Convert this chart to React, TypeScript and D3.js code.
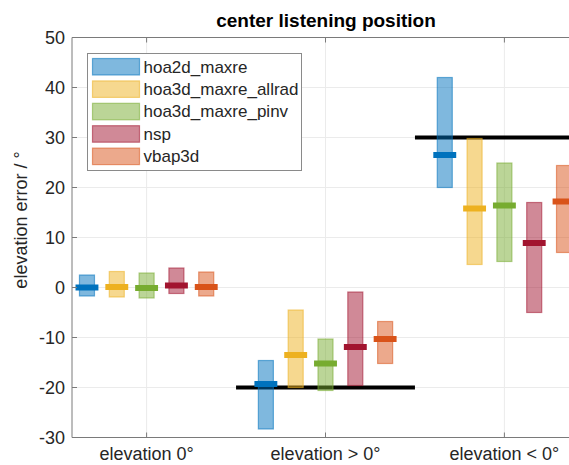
import React from "react";
import * as d3 from "d3";

const categories = ["elevation 0°", "elevation > 0°", "elevation < 0°"];
const seriesNames = ["hoa2d_maxre", "hoa3d_maxre_allrad", "hoa3d_maxre_pinv", "nsp", "vbap3d"];
const seriesColors = ["#0072BD", "#EDB120", "#77AC30", "#A2142F", "#D95319"];
// per series, per category
const lowValues = [
  [-1.7, -28.3, 20.0],
  [-1.9, -20.0, 4.6],
  [-2.1, -20.6, 5.2],
  [-1.2, -19.6, -5.0],
  [-1.7, -15.2, 7.0],
];
const highValues = [
  [2.5, -14.6, 42.0],
  [3.2, -4.5, 29.8],
  [2.9, -10.3, 24.9],
  [3.9, -0.9, 17.0],
  [3.1, -6.8, 24.4],
];
const medianValues = [
  [0.0, -19.3, 26.5],
  [0.1, -13.5, 15.8],
  [-0.1, -15.2, 16.4],
  [0.4, -11.9, 8.9],
  [0.1, -10.3, 17.2],
];
const referenceValues: (number | null)[] = [null, -20, 30];
const yTicks = [-30, -20, -10, 0, 10, 20, 30, 40, 50];
const seriesOffsets = [-2, -1, 0, 1, 2];

const W = 569;
const H = 465;
const FONT = "'Liberation Sans', Arial, Helvetica, sans-serif";

export default function App() {
  const x = d3.scaleLinear().domain([0.583, 3.417]).range([72, 579]);
  const y = d3.scaleLinear().domain([-30, 50]).range([437.5, 37.5]);
  const unit = x(2) - x(1);
  const boxW = 0.084 * unit;
  const medW = 0.128 * unit;
  const medH = 6;
  const axisColor = "#7a7a7a";
  const textColor = "#262626";
  const x0 = x.range()[0];
  const x1 = x.range()[1];
  const yTop = y(50);
  const yBot = y(-30);

  return (
    <svg
      width={W}
      height={H}
      style={{ position: "absolute", left: 0, top: 0, background: "#fff" }}
      fontFamily={FONT}
    >
      <defs>
        <clipPath id="plotClip">
          <rect x={x0} y={yTop - 5} width={x1 - x0} height={yBot - yTop + 10} />
        </clipPath>
      </defs>
      {yTicks.map((t) => (
        <line key={"gy" + t} x1={x0} x2={x1} y1={y(t)} y2={y(t)} stroke="#ebebeb" strokeWidth={1} />
      ))}
      {categories.map((c, i) => (
        <line key={"gx" + i} x1={x(i + 1)} x2={x(i + 1)} y1={yTop} y2={yBot} stroke="#ebebeb" strokeWidth={1} />
      ))}
      <g clipPath="url(#plotClip)">
        {referenceValues.map((v, i) =>
          v === null ? null : (
            <line
              key={"ref" + i}
              x1={x(i + 1 - 0.5)}
              x2={x(i + 1 + 0.5)}
              y1={y(v)}
              y2={y(v)}
              stroke="#000"
              strokeWidth={4}
            />
          )
        )}
        {seriesNames.map((s, si) =>
          categories.map((c, ci) => {
            const cx = x(ci + 1 + seriesOffsets[si] / 6);
            const top = y(highValues[si][ci]);
            const bot = y(lowValues[si][ci]);
            return (
              <g key={s + ci}>
                <rect
                  x={cx - boxW / 2}
                  y={top}
                  width={boxW}
                  height={bot - top}
                  fill={seriesColors[si]}
                  fillOpacity={0.5}
                  stroke={seriesColors[si]}
                  strokeOpacity={0.55}
                  strokeWidth={1.2}
                />
                <rect
                  x={cx - medW / 2}
                  y={y(medianValues[si][ci]) - medH / 2}
                  width={medW}
                  height={medH}
                  fill={seriesColors[si]}
                />
              </g>
            );
          })
        )}
      </g>
      <line x1={x0} x2={x0} y1={yTop} y2={yBot} stroke={axisColor} strokeWidth={1} />
      <line x1={x0} x2={x1} y1={yBot} y2={yBot} stroke={axisColor} strokeWidth={1} />
      <line x1={x0} x2={x1} y1={yTop} y2={yTop} stroke={axisColor} strokeWidth={1} />
      <line x1={x1} x2={x1} y1={yTop} y2={yBot} stroke={axisColor} strokeWidth={1} />
      {yTicks.map((t) => (
        <g key={"yt" + t}>
          <line x1={x0} x2={x0 + 5} y1={y(t)} y2={y(t)} stroke={axisColor} />
          <text x={65} y={y(t)} dy="0.35em" textAnchor="end" fontSize={18} fill={textColor}>
            {t}
          </text>
        </g>
      ))}
      {categories.map((c, i) => (
        <g key={"xt" + i}>
          <line x1={x(i + 1)} x2={x(i + 1)} y1={yBot} y2={yBot - 5} stroke={axisColor} />
          <line x1={x(i + 1)} x2={x(i + 1)} y1={yTop} y2={yTop + 5} stroke={axisColor} />
          <text x={x(i + 1)} y={460} textAnchor="middle" fontSize={18} fill={textColor}>
            {c}
          </text>
        </g>
      ))}
      <text
        transform={`translate(27,220) rotate(-90)`}
        textAnchor="middle"
        fontSize={18}
        fill={textColor}
      >
        elevation error / °
      </text>
      <text x={326} y={27} textAnchor="middle" fontSize={19} fontWeight="bold" fill="#000">
        center listening position
      </text>
      <rect x={87.5} y={53.5} width={214} height={117} fill="#fff" stroke="#8a8a8a" strokeWidth={1} />
      {seriesNames.map((s, si) => (
        <g key={"lg" + s}>
          <rect
            x={92.5}
            y={58.5 + si * 22.4}
            width={47}
            height={16.5}
            fill={seriesColors[si]}
            fillOpacity={0.5}
            stroke={seriesColors[si]}
            strokeOpacity={0.55}
            strokeWidth={1.2}
          />
          <text x={143.5} y={66.7 + si * 22.4} dy="0.35em" fontSize={17} fill={textColor}>
            {s}
          </text>
        </g>
      ))}
    </svg>
  );
}
